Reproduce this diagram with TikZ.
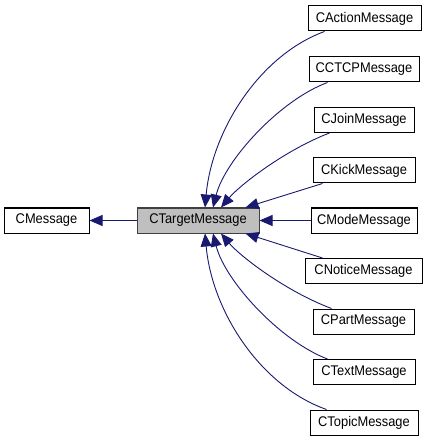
\documentclass[tikz,border=0pt]{standalone}
\usepackage{fontspec}
\setmainfont{Liberation Sans}[FakeStretch=0.92]
\usetikzlibrary{arrows.meta}
\definecolor{edgeblue}{RGB}{25,25,112}
\definecolor{basefill}{RGB}{191,191,191}
\definecolor{baseline}{RGB}{64,64,64}
\tikzset{
  cls/.style={draw=black, line width=1pt, fill=white, minimum height=25pt, inner sep=0pt,
    font=\fontsize{14}{16}\selectfont},
  curcls/.style={cls, fill=basefill, draw=baseline},
  inh/.style={draw=edgeblue, line width=0.9pt,
    -{Triangle[length=13pt,width=11pt,fill=edgeblue]}},
}
\begin{document}
\begin{tikzpicture}[x=1pt,y=-1pt]
\useasboundingbox (0,0) rectangle (435,443);
\node[cls, minimum width=85pt] (cm) at (46.5,220.5) {CMessage};
\node[curcls, minimum width=122pt] (ctm) at (198,220.5) {CTargetMessage};
\node[cls, minimum width=113pt] (ca) at (364.5,18.5) {CActionMessage};
\node[cls, minimum width=110pt] (cc) at (364,69.5) {CCTCPMessage};
\node[cls, minimum width=100pt] (cj) at (364,120) {CJoinMessage};
\node[cls, minimum width=102pt] (ck) at (364,170.5) {CKickMessage};
\node[cls, minimum width=106pt] (cmo) at (364,220.5) {CModeMessage};
\node[cls, minimum width=117pt] (cn) at (363.5,271) {CNoticeMessage};
\node[cls, minimum width=101pt] (cp) at (363.5,321.5) {CPartMessage};
\node[cls, minimum width=102pt] (ct) at (364,372) {CTextMessage};
\node[cls, minimum width=108pt] (cto) at (364,422.5) {CTopicMessage};

\draw[inh] (ctm.west) -- (cm.east);
\draw[inh] ([xshift=17pt]ca.south west) .. controls (260,55) and (212,130) .. ([xshift=7pt]ctm.north);
\draw[inh] ([xshift=19pt]cc.south west) .. controls (280,100) and (225,160) .. ([xshift=15pt]ctm.north);
\draw[inh] ([xshift=16pt]cj.south west) .. controls (285,150) and (240,185) .. ([xshift=23pt]ctm.north);
\draw[inh] ([xshift=10pt]ck.south west) -- ([xshift=-14pt]ctm.north east);
\draw[inh] (cmo.west) -- (ctm.east);
\draw[inh] ([xshift=18pt]cn.north west) -- ([xshift=-14pt]ctm.south east);
\draw[inh] ([xshift=19pt]cp.north west) .. controls (285,291) and (240,256) .. ([xshift=23pt]ctm.south);
\draw[inh] ([xshift=15pt]ct.north west) .. controls (280,341) and (225,281) .. ([xshift=15pt]ctm.south);
\draw[inh] ([xshift=17pt]cto.north west) .. controls (260,386) and (212,311) .. ([xshift=7pt]ctm.south);
\end{tikzpicture}
\end{document}
